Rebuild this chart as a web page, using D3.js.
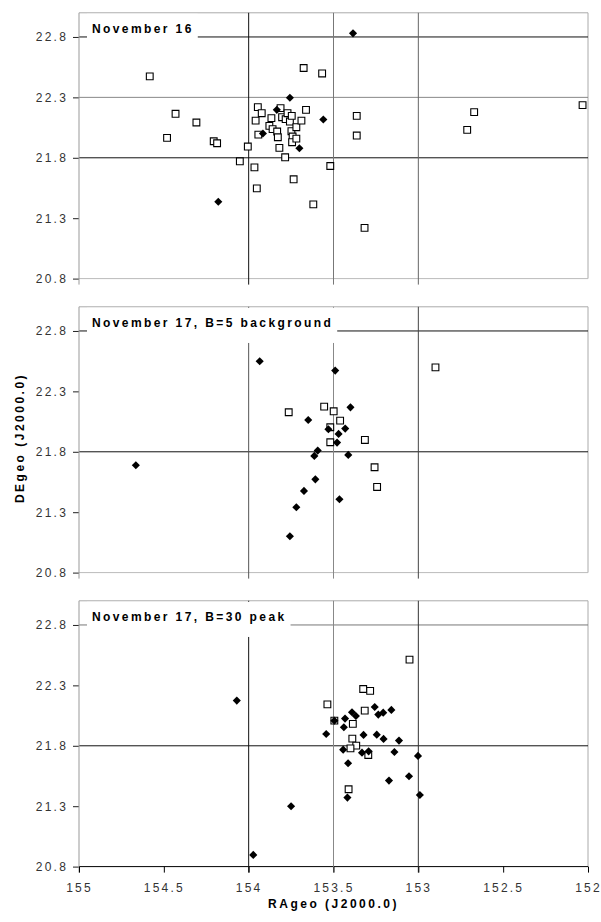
<!DOCTYPE html>
<html>
<head>
<meta charset="utf-8">
<script src="https://cdn.jsdelivr.net/npm/d3@7"></script>
<style>
  body { margin: 0; background: #fff; }
  svg { display: block; font-family: "Liberation Sans", Arial, sans-serif; }
  .tick text { fill: #333; font-size: 12px; letter-spacing: 2.2px; }
  .panel-title { font-size: 12px; font-weight: bold; letter-spacing: 2.4px; fill: #000; }
  .axis-title { font-size: 12px; font-weight: bold; letter-spacing: 2.5px; fill: #000; }
</style>
</head>
<body>
<svg id="chart" width="601" height="922"></svg>
<script>
// ticks and titles
const xTicks = [155, 154.5, 154, 153.5, 153, 152.5, 152];
const yTicks = [20.8, 21.3, 21.8, 22.3, 22.8];
const panelTitles = ['November 16', 'November 17, B=5 background', 'November 17, B=30 peak'];
const hGridValues = [[22.8, 22.3, 21.8], [22.8, 21.8], [22.8, 21.8]];
const vGridValues = [154, 153.5, 153];

// [RAgeo, DEgeo]
const nov16Squares = [
  [154.583, 22.474], [154.431, 22.164], [154.308, 22.092], [154.481, 21.965], [154.206, 21.937],
  [154.186, 21.920], [154.005, 21.893], [154.052, 21.771], [153.966, 21.721], [153.952, 21.547],
  [153.946, 22.219], [153.923, 22.169], [153.959, 22.108], [153.943, 21.992], [153.866, 22.128],
  [153.878, 22.064], [153.859, 22.037], [153.832, 22.017], [153.828, 21.970], [153.819, 21.882],
  [153.812, 22.211], [153.803, 22.136], [153.782, 22.120], [153.771, 22.169], [153.757, 22.100],
  [153.746, 22.147], [153.748, 22.020], [153.741, 21.976], [153.744, 21.929], [153.719, 22.053],
  [153.719, 21.959], [153.689, 22.108], [153.662, 22.197], [153.785, 21.804], [153.735, 21.622],
  [153.676, 22.543], [153.567, 22.498], [153.619, 21.414], [153.519, 21.732], [153.363, 22.147],
  [153.363, 21.984], [153.317, 21.220], [152.671, 22.178], [152.712, 22.031], [152.032, 22.236]
];
const nov16Diamonds = [
  [153.385, 22.830], [153.757, 22.297], [153.834, 22.197], [153.560, 22.117],
  [153.916, 22.001], [153.701, 21.879], [154.179, 21.436]
];
const nov17bgSquares = [
  [152.899, 22.499], [153.764, 22.127], [153.555, 22.174], [153.499, 22.135], [153.461, 22.058],
  [153.519, 22.003], [153.519, 21.879], [153.315, 21.898], [153.258, 21.672], [153.243, 21.509]
];
const nov17bgDiamonds = [
  [154.665, 21.688], [153.935, 22.549], [153.490, 22.472], [153.400, 22.168], [153.649, 22.063],
  [153.530, 21.986], [153.470, 21.948], [153.431, 21.992], [153.479, 21.876], [153.593, 21.810],
  [153.613, 21.766], [153.413, 21.774], [153.607, 21.572], [153.674, 21.476], [153.719, 21.341],
  [153.465, 21.407], [153.757, 21.101]
];
const nov17pkSquares = [
  [153.052, 22.513], [153.325, 22.270], [153.284, 22.254], [153.536, 22.143], [153.316, 22.091],
  [153.386, 21.981], [153.389, 21.859], [153.366, 21.801], [153.400, 21.779], [153.295, 21.724],
  [153.411, 21.440], [153.495, 22.008]
];
const nov17pkDiamonds = [
  [154.070, 22.174], [153.973, 20.897], [153.750, 21.299], [153.543, 21.898], [153.495, 22.008],
  [153.432, 22.025], [153.439, 21.953], [153.391, 22.077], [153.368, 22.047], [153.323, 21.890],
  [153.332, 21.743], [153.293, 21.754], [153.443, 21.768], [153.414, 21.655], [153.418, 21.371],
  [153.257, 22.121], [153.236, 22.058], [153.207, 22.074], [153.159, 22.097], [153.245, 21.892],
  [153.205, 21.857], [153.114, 21.843], [153.141, 21.749], [153.173, 21.512], [153.055, 21.548],
  [153.002, 21.716], [152.991, 21.393]
];

const panels = [
  { title: panelTitles[0], squares: nov16Squares, diamonds: nov16Diamonds, hGrid: hGridValues[0],
    bottom: 278.6, hColors: ['#111', '#888', '#111'], vColors: ['#111', '#777', '#666'] },
  { title: panelTitles[1], squares: nov17bgSquares, diamonds: nov17bgDiamonds, hGrid: hGridValues[1],
    bottom: 572.6, hColors: ['#111', '#111'], vColors: ['#555', '#888', '#444'] },
  { title: panelTitles[2], squares: nov17pkSquares, diamonds: nov17pkDiamonds, hGrid: hGridValues[2],
    bottom: 866.6, hColors: ['#777', '#111'], vColors: ['#111', '#888', '#333'] }
];

const svg = d3.select('#chart');
const left = 79, right = 588;
const plotHeight = 265.8;

const xScale = d3.scaleLinear().domain([155, 152]).range([left, right]);

const squareSym = d3.symbol().type(d3.symbolSquare).size(46);
const diamondSym = d3.symbol().type(d3.symbolDiamond2 || d3.symbolDiamond).size(42);

panels.forEach((p, i) => {
  const top = p.bottom - plotHeight;
  const yScale = d3.scaleLinear().domain([20.8, 23.0]).range([p.bottom, top]);
  const g = svg.append('g').attr('class', 'panel');

  // frame: top, right, bottom (light grey)
  g.append('line').attr('x1', left).attr('x2', right).attr('y1', top).attr('y2', top)
    .attr('stroke', '#aaa');
  g.append('line').attr('x1', right).attr('x2', right).attr('y1', top).attr('y2', p.bottom)
    .attr('stroke', '#aaa');
  g.append('line').attr('x1', left).attr('x2', right).attr('y1', p.bottom).attr('y2', p.bottom)
    .attr('stroke', i === 2 ? '#000' : '#bbb');

  // gridlines
  g.selectAll('.hgrid').data(p.hGrid).enter().append('line')
    .attr('class', 'hgrid')
    .attr('x1', left).attr('x2', right)
    .attr('y1', d => yScale(d)).attr('y2', d => yScale(d))
    .attr('stroke', (d, j) => p.hColors[j]);
  g.selectAll('.vgrid').data(vGridValues).enter().append('line')
    .attr('class', 'vgrid')
    .attr('x1', d => xScale(d)).attr('x2', d => xScale(d))
    .attr('y1', top).attr('y2', p.bottom + 6)
    .attr('stroke', (d, j) => p.vColors[j]);

  // y axis
  const yAxis = d3.axisLeft(yScale).tickValues(yTicks).tickSize(6).tickPadding(5)
    .tickFormat(d3.format('.1f'));
  const yAxisG = g.append('g').attr('transform', `translate(${left},0)`).call(yAxis);
  yAxisG.select('.domain').remove();
  yAxisG.selectAll('.tick line').attr('stroke', '#222');
  g.append('line').attr('x1', left).attr('x2', left).attr('y1', top).attr('y2', p.bottom + 6)
    .attr('stroke', '#999');

  // title box over the gridlines
  const titleText = g.append('text').attr('class', 'panel-title')
    .attr('x', 92).attr('y', yScale(22.8) - 4).text(p.title);
  const tw = titleText.node().getComputedTextLength();
  g.insert('rect', '.panel-title')
    .attr('x', left + 8).attr('y', top + 1)
    .attr('width', 92 + tw + 4 - (left + 8))
    .attr('height', yScale(22.8) + 12 - (top + 1))
    .attr('fill', '#fff');

  // points
  g.selectAll('.sq').data(p.squares).enter().append('path')
    .attr('class', 'sq')
    .attr('transform', d => `translate(${xScale(d[0])},${yScale(d[1])})`)
    .attr('d', squareSym)
    .attr('fill', '#fff').attr('stroke', '#000').attr('stroke-width', 1.1);
  g.selectAll('.dm').data(p.diamonds).enter().append('path')
    .attr('class', 'dm')
    .attr('transform', d => `translate(${xScale(d[0])},${yScale(d[1])})`)
    .attr('d', diamondSym)
    .attr('fill', '#000');

  // x axis only on the last panel
  if (i === 2) {
    const xAxis = d3.axisBottom(xScale).tickValues(xTicks).tickSize(6).tickPadding(11)
      .tickFormat(d => String(d));
    const xAxisG = g.append('g').attr('transform', `translate(0,${p.bottom})`).call(xAxis);
    xAxisG.select('.domain').remove();
    xAxisG.selectAll('.tick line').attr('stroke', '#000');
  }
});

// axis titles
svg.append('text').attr('class', 'axis-title')
  .attr('x', (left + right) / 2).attr('y', 908)
  .attr('text-anchor', 'middle')
  .text('RAgeo (J2000.0)');
svg.append('text').attr('class', 'axis-title')
  .attr('transform', 'translate(24,438) rotate(-90)')
  .attr('text-anchor', 'middle')
  .text('DEgeo (J2000.0)');
</script>
</body>
</html>
